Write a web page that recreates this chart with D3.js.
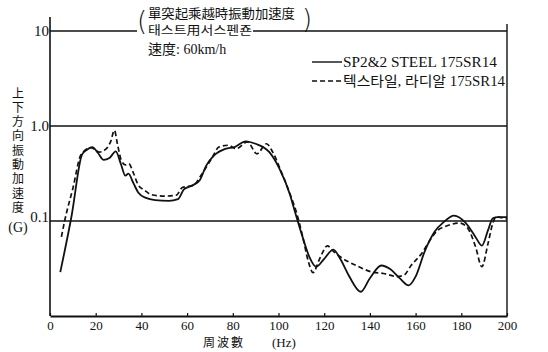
<!DOCTYPE html>
<html>
<head>
<meta charset="utf-8">
<script src="https://cdn.jsdelivr.net/npm/d3@7"></script>
<style>
  body { margin: 0; background: #fff; }
  text { fill: #111; }
</style>
</head>
<body>
<svg id="chart" width="548" height="352"></svg>
<script>
// frequency (Hz) and vertical acceleration (G)
var steelHz  = [4.5, 9.5, 14, 16, 18.5, 21, 23.5, 26, 28.8, 31, 33, 34.3, 36.5, 38.6, 42, 46, 52, 56, 58.6, 62.8, 65.6, 68.3, 71.8, 76.7, 80.8, 85.7, 89.9, 96, 100.3, 105, 107.2, 110.7, 113.5, 116.5, 120, 124, 127, 131, 136, 140, 145, 149, 153, 157, 160, 164, 168.3, 172.4, 176.8, 182, 186.2, 189, 191.7, 193.8, 196, 200];
var steelG   = [0.029, 0.115, 0.5, 0.56, 0.6, 0.52, 0.44, 0.46, 0.54, 0.4, 0.3, 0.315, 0.25, 0.2, 0.175, 0.166, 0.163, 0.17, 0.215, 0.24, 0.27, 0.38, 0.49, 0.575, 0.6, 0.69, 0.65, 0.53, 0.36, 0.19, 0.125, 0.066, 0.042, 0.033, 0.04, 0.05, 0.04, 0.026, 0.018, 0.025, 0.034, 0.031, 0.025, 0.021, 0.026, 0.048, 0.077, 0.098, 0.114, 0.095, 0.068, 0.055, 0.08, 0.107, 0.11, 0.11];
var textileHz = [5, 6.4, 10, 13.6, 17.8, 20, 21.5, 24, 26.5, 28.2, 29.5, 31, 33, 34.5, 36.5, 38.6, 41.5, 44.2, 50, 55.3, 57.9, 62.8, 66, 71.1, 73.9, 78.1, 81.5, 86.4, 90.6, 94.7, 97.5, 101, 105.5, 108, 110.5, 113, 115.1, 118, 121.4, 124, 127, 134, 141, 146, 152, 155, 158, 162.5, 166.9, 169, 173.8, 179.3, 182.8, 186.2, 189, 191.7, 193.8, 195.2, 200];
var textileG  = [0.068, 0.1, 0.22, 0.5, 0.59, 0.56, 0.53, 0.56, 0.68, 0.9, 0.65, 0.45, 0.39, 0.4, 0.32, 0.24, 0.21, 0.19, 0.183, 0.187, 0.225, 0.238, 0.3, 0.47, 0.6, 0.627, 0.578, 0.68, 0.51, 0.65, 0.53, 0.34, 0.18, 0.12, 0.07, 0.038, 0.0286, 0.04, 0.0546, 0.048, 0.042, 0.034, 0.029, 0.028, 0.026, 0.027, 0.034, 0.045, 0.066, 0.077, 0.089, 0.095, 0.084, 0.054, 0.033, 0.058, 0.095, 0.11, 0.105];

var xTicks = d3.range(0, 201, 20);
var yTicks = [0.1, 1, 10];
var yTickText = ["0.1", "1.0", "10"];
var yTitle = "上下方向振動加速度";

var serif = "'Liberation Serif','DejaVu Serif','Noto Sans CJK KR',serif";
var cjk = "'Noto Sans CJK KR','Noto Sans CJK TC',sans-serif";

var svg = d3.select("#chart");

var x = d3.scaleLinear().domain([0, 200]).range([50, 507]);
var y = d3.scaleLog().domain([0.01, 10]).range([316, 31]);

// x axis with small inward ticks
var xAxis = svg.append("g")
    .attr("transform", "translate(0,316)")
    .call(d3.axisBottom(x).tickValues(xTicks).tickSize(-3).tickSizeOuter(0).tickPadding(5));
xAxis.select(".domain").attr("stroke", "#111").attr("stroke-width", 1.8);
xAxis.selectAll(".tick line").attr("stroke", "#111").attr("stroke-width", 1.2);
xAxis.selectAll(".tick text")
    .attr("font-family", serif).attr("font-size", 13).attr("fill", "#111");

// left axis and right border
svg.append("line").attr("x1", 50).attr("x2", 50).attr("y1", 17).attr("y2", 316)
    .attr("stroke", "#111").attr("stroke-width", 1.6);
svg.append("line").attr("x1", 507).attr("x2", 507).attr("y1", 24).attr("y2", 316)
    .attr("stroke", "#111").attr("stroke-width", 1.4);

// horizontal lines at 1.0 and 0.1, broken line at 10 under the title
svg.selectAll("line.grid")
    .data([0.1, 1])
    .enter().append("line")
    .attr("class", "grid")
    .attr("x1", 50).attr("x2", 507)
    .attr("y1", function(d) { return y(d); })
    .attr("y2", function(d) { return y(d); })
    .attr("stroke", "#111").attr("stroke-width", 1.3);
svg.append("line").attr("x1", 50).attr("x2", 137).attr("y1", y(10)).attr("y2", y(10))
    .attr("stroke", "#111").attr("stroke-width", 1.3);
svg.append("line").attr("x1", 253).attr("x2", 507).attr("y1", y(10)).attr("y2", y(10))
    .attr("stroke", "#111").attr("stroke-width", 1.3);

// y tick labels
svg.selectAll("text.ytick")
    .data(yTicks)
    .enter().append("text")
    .attr("class", "ytick")
    .attr("x", 49)
    .attr("y", function(d) { return y(d) + (d == 0.1 ? 1 : 5); })
    .attr("text-anchor", "end")
    .attr("font-family", serif).attr("font-size", 15)
    .text(function(d, i) { return yTickText[i]; });

// vertical y title, one text set top to bottom
svg.append("text")
    .attr("x", 18).attr("y", 87)
    .attr("writing-mode", "vertical-rl")
    .attr("font-family", cjk).attr("font-size", 12)
    .attr("letter-spacing", 2.3)
    .text(yTitle);
svg.append("text").attr("x", 18).attr("y", 232).attr("text-anchor", "middle")
    .attr("font-family", serif).attr("font-size", 14).text("(G)");

// x title
svg.append("text").attr("x", 203).attr("y", 347)
    .attr("font-family", cjk).attr("font-size", 12)
    .attr("textLength", 40).attr("lengthAdjust", "spacing")
    .text("周波數");
svg.append("text").attr("x", 272).attr("y", 347)
    .attr("font-family", serif).attr("font-size", 13).text("(Hz)");

// title block
svg.append("text").attr("x", 137).attr("y", 30)
    .attr("font-family", "'DejaVu Sans'").attr("font-size", 26).attr("font-weight", 200).text("(");
svg.append("text").attr("x", 302).attr("y", 28)
    .attr("font-family", "'DejaVu Sans'").attr("font-size", 26).attr("font-weight", 200).text(")");
svg.append("text").attr("x", 148).attr("y", 18)
    .attr("font-family", cjk).attr("font-size", 13)
    .attr("textLength", 147).attr("lengthAdjust", "spacingAndGlyphs")
    .text("單突起乘越時振動加速度");
svg.append("text").attr("x", 148).attr("y", 35)
    .attr("font-family", cjk).attr("font-size", 12)
    .attr("textLength", 104).attr("lengthAdjust", "spacingAndGlyphs")
    .text("태스트用서스펜죤");
svg.append("text").attr("x", 148).attr("y", 54)
    .attr("font-family", "'Liberation Serif','Noto Sans CJK KR',serif").attr("font-size", 14)
    .text("速度: 60km/h");

// curves
var line = d3.line()
    .x(function(d) { return x(d[0]); })
    .y(function(d) { return y(d[1]); })
    .curve(d3.curveMonotoneX);

svg.append("path")
    .datum(d3.zip(steelHz, steelG))
    .attr("d", line)
    .attr("fill", "none").attr("stroke", "#111").attr("stroke-width", 1.8);
svg.append("path")
    .datum(d3.zip(textileHz, textileG))
    .attr("d", line)
    .attr("fill", "none").attr("stroke", "#111").attr("stroke-width", 1.7)
    .attr("stroke-dasharray", "5,3");

// legend
svg.append("line").attr("x1", 312).attr("x2", 342).attr("y1", 62).attr("y2", 62)
    .attr("stroke", "#111").attr("stroke-width", 1.4);
svg.append("text").attr("x", 343).attr("y", 67)
    .attr("font-family", serif).attr("font-size", 15)
    .attr("textLength", 154).attr("lengthAdjust", "spacingAndGlyphs")
    .text("SP2&2 STEEL 175SR14");
svg.append("line").attr("x1", 312).attr("x2", 341).attr("y1", 81).attr("y2", 81)
    .attr("stroke", "#111").attr("stroke-width", 1.4).attr("stroke-dasharray", "5,3");
svg.append("text").attr("x", 343).attr("y", 86)
    .attr("font-family", "'Liberation Serif','Noto Sans CJK KR',serif").attr("font-size", 14)
    .attr("textLength", 162).attr("lengthAdjust", "spacingAndGlyphs")
    .text("텍스타일, 라디알 175SR14");
</script>
</body>
</html>
